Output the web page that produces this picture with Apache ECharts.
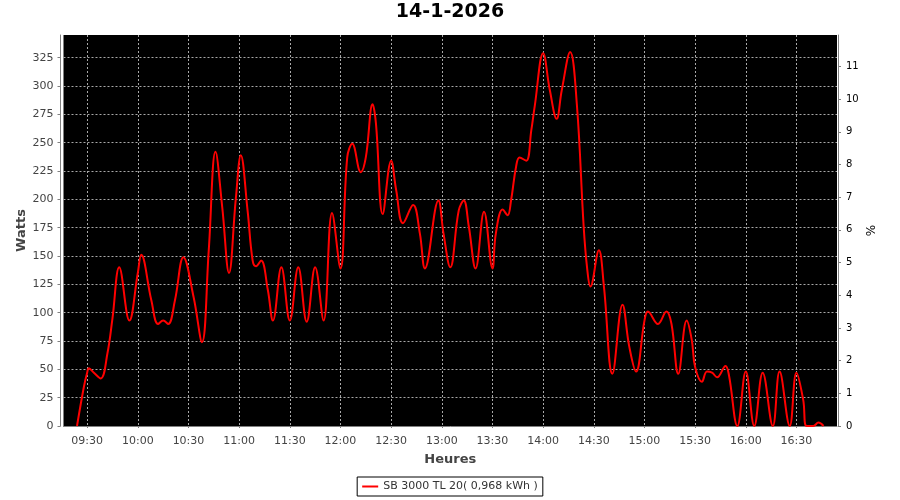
<!DOCTYPE html>
<html>
<head>
<meta charset="utf-8">
<script src="https://cdn.jsdelivr.net/npm/echarts@6/dist/echarts.min.js"></script>
<style>html,body{margin:0;padding:0;background:#fff}#c{width:900px;height:500px}</style>
</head>
<body>
<div id="c"></div>
<script>
const chartTitle = '14-1-2026';
const seriesName = 'SB 3000 TL 20( 0,968 kWh )';
const times = ['09:24','09:28','09:30','09:31','09:34','09:38','09:42','09:45','09:49','09:55','10:00','10:02','10:08','10:12','10:15','10:18','10:22','10:27','10:33','10:38','10:42','10:46','10:50','10:54','10:58','11:01','11:05','11:08','11:10','11:13','11:17','11:20','11:25','11:30','11:35','11:40','11:45','11:50','11:55','12:00','12:04','12:07','12:12','12:15','12:19','12:21','12:25','12:30','12:33','12:37','12:43','12:47','12:50','12:58','13:01','13:05','13:10','13:13','13:16','13:20','13:25','13:30','13:32','13:36','13:39','13:41','13:44','13:46','13:50','13:53','13:55','14:00','14:04','14:08','14:11','14:16','14:20','14:24','14:26','14:28','14:33','14:36','14:41','14:47','14:51','14:55','15:00','15:02','15:08','15:13','15:16','15:20','15:25','15:28','15:30','15:34','15:37','15:40','15:43','15:48','15:50','15:55','16:00','16:05','16:10','16:16','16:20','16:26','16:30','16:34','16:36','16:40','16:43','16:46'];
const watts = [0,34,47,51,47,42,64,95,140,93,135,151,111,90,93,90,111,149,114,74,155,242,193,135,200,239,190,146,141,146,120,93,140,93,140,92,140,93,188,139,237,249,224,237,284,267,187,234,208,179,195,170,139,199,170,140,190,199,176,139,189,139,170,191,186,199,229,237,234,261,282,329,296,271,296,330,283,176,140,123,155,123,46,107,70,48,93,101,90,101,90,46,93,76,52,39,48,47,43,53,45,0,48,0,47,0,48,0,47,23,0,0,3,0];
const xTickLabels = ['09:30','10:00','10:30','11:00','11:30','12:00','12:30','13:00','13:30','14:00','14:30','15:00','15:30','16:00','16:30'];
const xStart = '09:16', xEnd = '16:54';
const wattsMax = 345, pctMax = 11.96;

function toMin(s){const p=s.split(':');return (+p[0])*60+(+p[1]);}
function fmt(m){m=Math.round(m);const h=Math.floor(m/60),mm=m%60;return String(h).padStart(2,'0')+':'+String(mm).padStart(2,'0');}
const data = times.map((t,i)=>[toMin(t), watts[i]]);
const tickVals = xTickLabels.map(toMin);

const chart = echarts.init(document.getElementById('c'), null, {renderer:'canvas'});
const FONT = 'DejaVu Sans';
const gridLine = {show:true, lineStyle:{color:'#a8a8a8', width:1, type:[2,2]}};
chart.setOption({
  animation:false,
  backgroundColor:'#fff',
  textStyle:{fontFamily:FONT},
  title:{text:chartTitle, left:'center', top:3, padding:0,
    textStyle:{fontFamily:FONT, fontSize:19, fontWeight:'bold', color:'#000'}},
  grid:{left:63.5, right:63, top:35, bottom:74, show:true, backgroundColor:'#000', borderWidth:0, containLabel:false},
  legend:{show:true, left:'center', top:477, padding:[4,5], borderColor:'#000', borderWidth:1, borderRadius:0,
    itemWidth:16, itemHeight:2, itemGap:5,
    textStyle:{fontFamily:FONT, fontSize:11, color:'#333'}, data:[{name:seriesName, icon:'rect'}]},
  xAxis:{type:'value', min:toMin(xStart), max:toMin(xEnd), offset:4,
    name:'Heures', nameLocation:'middle', nameGap:23, nameMoveOverlap:false,
    nameTextStyle:{fontFamily:FONT, fontSize:13, fontWeight:'bold', color:'#444'},
    axisLine:{show:true, lineStyle:{color:'#808080', width:1}},
    axisTick:{show:true, length:2, customValues:tickVals, lineStyle:{color:'#808080'}},
    axisLabel:{customValues:tickVals, formatter:v=>fmt(v), margin:6, fontFamily:FONT, fontSize:11, color:'#444'},
    splitLine:gridLine},
  yAxis:[
    {type:'value', min:0, max:wattsMax, interval:25, position:'left', offset:3,
      name:'Watts', nameLocation:'middle', nameGap:32, nameMoveOverlap:false,
      nameTextStyle:{fontFamily:FONT, fontSize:13, fontWeight:'bold', color:'#444'},
      axisLine:{show:true, lineStyle:{color:'#808080'}},
      axisTick:{show:true, length:3, lineStyle:{color:'#808080'}},
      axisLabel:{margin:7, fontFamily:FONT, fontSize:11, color:'#444', showMaxLabel:false},
      splitLine:Object.assign({showMaxLine:false}, gridLine)},
    {type:'value', min:0, max:pctMax, interval:1, position:'right', offset:1,
      name:'%', nameLocation:'middle', nameGap:28, nameMoveOverlap:false,
      nameTextStyle:{fontFamily:FONT, fontSize:12, color:'#000'},
      axisLine:{show:true, lineStyle:{color:'#808080'}},
      axisTick:{show:true, length:3, lineStyle:{color:'#808080'}},
      axisLabel:{margin:8, fontFamily:FONT, fontSize:10, color:'#000', showMaxLabel:false},
      splitLine:{show:false}}
  ],
  series:[{name:seriesName, type:'line', data:data, smooth:0.4, showSymbol:false, symbol:'none',
    lineStyle:{color:'#ff0000', width:2}, itemStyle:{color:'#ff0000'}, clip:true}]
});
</script>
</body>
</html>
